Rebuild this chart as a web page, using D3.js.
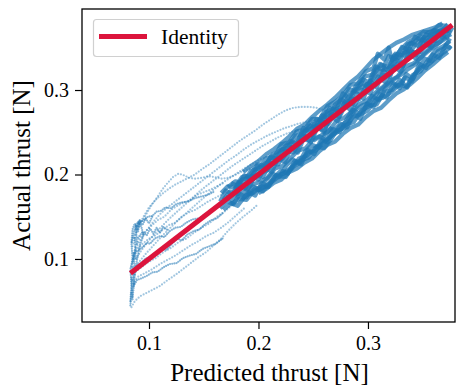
<!DOCTYPE html>
<html><head><meta charset="utf-8">
<script src="https://cdn.jsdelivr.net/npm/d3@7"></script>
<style>body{margin:0;background:#fff}svg{display:block}</style>
</head><body>
<script>
// ---- tick labels ----
const xTicks = [0.1, 0.2, 0.3];
const yTicks = [0.1, 0.2, 0.3];
const identityX = [0.083, 0.377];

// ---- dense band trajectories [predicted, actual] ----
const band1 = [[0.166,0.178],[0.172,0.186],[0.178,0.184],[0.185,0.197],[0.192,0.199],[0.199,0.212],[0.206,0.210],[0.213,0.224],[0.220,0.229],[0.227,0.232],[0.234,0.246],[0.241,0.248],[0.248,0.259],[0.255,0.262],[0.262,0.274],[0.269,0.279],[0.276,0.286],[0.283,0.301],[0.290,0.298],[0.297,0.316],[0.304,0.318],[0.311,0.331],[0.318,0.327],[0.325,0.343],[0.332,0.341],[0.339,0.356],[0.346,0.352],[0.353,0.366],[0.360,0.362],[0.367,0.373],[0.374,0.369]];
const band2 = [[0.168,0.158],[0.175,0.166],[0.181,0.163],[0.188,0.175],[0.195,0.178],[0.202,0.186],[0.209,0.185],[0.216,0.199],[0.223,0.201],[0.230,0.206],[0.237,0.219],[0.244,0.222],[0.251,0.231],[0.258,0.236],[0.265,0.244],[0.272,0.252],[0.279,0.255],[0.286,0.268],[0.293,0.271],[0.300,0.276],[0.307,0.289],[0.314,0.291],[0.321,0.297],[0.328,0.306],[0.335,0.304],[0.342,0.318],[0.349,0.327],[0.356,0.331],[0.363,0.339],[0.370,0.345],[0.376,0.352]];
const band3 = [[0.170,0.174],[0.176,0.170],[0.183,0.185],[0.190,0.182],[0.197,0.199],[0.204,0.197],[0.211,0.214],[0.218,0.212],[0.225,0.228],[0.232,0.226],[0.239,0.243],[0.246,0.240],[0.253,0.257],[0.260,0.252],[0.267,0.272],[0.274,0.268],[0.281,0.287],[0.288,0.282],[0.295,0.300],[0.302,0.296],[0.309,0.316],[0.316,0.309],[0.323,0.328],[0.330,0.322],[0.337,0.343],[0.344,0.337],[0.351,0.356],[0.358,0.350],[0.365,0.369],[0.372,0.362],[0.377,0.374]];
const band4 = [[0.172,0.185],[0.179,0.192],[0.186,0.190],[0.193,0.204],[0.200,0.207],[0.207,0.219],[0.214,0.220],[0.221,0.236],[0.228,0.238],[0.235,0.251],[0.242,0.253],[0.249,0.266],[0.256,0.265],[0.263,0.281],[0.270,0.286],[0.277,0.293],[0.284,0.306],[0.291,0.308],[0.298,0.322],[0.305,0.326],[0.309,0.343],[0.315,0.336],[0.319,0.350],[0.322,0.335],[0.330,0.348],[0.337,0.357],[0.344,0.362],[0.351,0.369],[0.358,0.368],[0.365,0.377],[0.372,0.376]];
const band5 = [[0.175,0.165],[0.182,0.171],[0.189,0.170],[0.196,0.181],[0.203,0.183],[0.210,0.189],[0.217,0.196],[0.224,0.203],[0.231,0.209],[0.238,0.214],[0.245,0.226],[0.252,0.228],[0.259,0.237],[0.266,0.245],[0.273,0.251],[0.280,0.259],[0.287,0.262],[0.294,0.276],[0.301,0.281],[0.308,0.283],[0.315,0.298],[0.322,0.300],[0.329,0.312],[0.336,0.303],[0.341,0.318],[0.348,0.322],[0.355,0.336],[0.362,0.347],[0.369,0.352],[0.375,0.358]];
const band6 = [[0.178,0.183],[0.185,0.194],[0.192,0.196],[0.199,0.205],[0.206,0.213],[0.213,0.217],[0.220,0.227],[0.227,0.235],[0.234,0.238],[0.241,0.251],[0.248,0.254],[0.255,0.259],[0.262,0.271],[0.269,0.276],[0.276,0.280],[0.283,0.293],[0.290,0.301],[0.297,0.305],[0.304,0.312],[0.311,0.322],[0.318,0.325],[0.325,0.334],[0.332,0.344],[0.339,0.346],[0.346,0.358],[0.353,0.360],[0.360,0.366],[0.367,0.371],[0.374,0.372]];
const band7 = [[0.180,0.172],[0.187,0.179],[0.194,0.188],[0.201,0.191],[0.208,0.196],[0.215,0.207],[0.222,0.210],[0.229,0.219],[0.236,0.228],[0.243,0.231],[0.250,0.242],[0.257,0.246],[0.264,0.251],[0.271,0.263],[0.278,0.267],[0.285,0.274],[0.292,0.283],[0.299,0.288],[0.306,0.296],[0.313,0.303],[0.320,0.311],[0.327,0.316],[0.334,0.328],[0.341,0.331],[0.348,0.338],[0.355,0.346],[0.362,0.352],[0.369,0.361],[0.376,0.366]];
const band8 = [[0.168,0.170],[0.174,0.180],[0.181,0.177],[0.187,0.188],[0.194,0.193],[0.201,0.201],[0.208,0.205],[0.215,0.216],[0.222,0.219],[0.229,0.232],[0.236,0.233],[0.243,0.246],[0.250,0.247],[0.257,0.263],[0.264,0.260],[0.271,0.275],[0.278,0.278],[0.285,0.290],[0.292,0.289],[0.299,0.307],[0.306,0.305],[0.313,0.318],[0.320,0.318],[0.327,0.331],[0.334,0.334],[0.341,0.345],[0.348,0.345],[0.355,0.359],[0.362,0.358],[0.369,0.368],[0.376,0.371]];
const band9 = [[0.190,0.176],[0.197,0.184],[0.204,0.180],[0.211,0.192],[0.218,0.198],[0.225,0.197],[0.232,0.212],[0.239,0.217],[0.246,0.220],[0.253,0.233],[0.260,0.231],[0.267,0.243],[0.274,0.257],[0.281,0.263],[0.288,0.276],[0.295,0.282],[0.302,0.285],[0.309,0.297],[0.316,0.305],[0.323,0.312],[0.330,0.318],[0.337,0.325],[0.344,0.331],[0.351,0.343],[0.358,0.351],[0.365,0.356],[0.372,0.362]];
const band10 = [[0.200,0.178],[0.207,0.183],[0.214,0.190],[0.221,0.194],[0.228,0.203],[0.235,0.207],[0.242,0.214],[0.249,0.219],[0.256,0.228],[0.263,0.235],[0.270,0.239],[0.277,0.248],[0.284,0.255],[0.291,0.259],[0.298,0.268],[0.305,0.275],[0.312,0.279],[0.319,0.288],[0.326,0.296],[0.333,0.301],[0.338,0.306],[0.345,0.314],[0.352,0.323],[0.359,0.330],[0.366,0.338],[0.373,0.345]];
const band11 = [[0.186,0.203],[0.193,0.210],[0.200,0.216],[0.207,0.224],[0.214,0.230],[0.221,0.237],[0.228,0.245],[0.235,0.254],[0.242,0.259],[0.249,0.268],[0.256,0.276],[0.263,0.283],[0.270,0.291],[0.277,0.300],[0.284,0.309],[0.291,0.316],[0.298,0.326],[0.305,0.336],[0.312,0.343],[0.319,0.350],[0.326,0.356],[0.333,0.360],[0.340,0.365],[0.347,0.368],[0.354,0.371],[0.361,0.374],[0.368,0.379]];
const band12 = [[0.165,0.168],[0.170,0.181],[0.176,0.176],[0.182,0.190],[0.188,0.184],[0.194,0.198],[0.200,0.194],[0.206,0.209],[0.212,0.203],[0.218,0.219],[0.224,0.215],[0.230,0.232],[0.236,0.226],[0.242,0.245],[0.248,0.238],[0.254,0.256],[0.260,0.250],[0.266,0.270],[0.272,0.263],[0.278,0.284],[0.284,0.276],[0.290,0.296],[0.296,0.290],[0.302,0.311],[0.308,0.303],[0.314,0.323],[0.320,0.315],[0.326,0.336],[0.332,0.328],[0.338,0.349],[0.344,0.341],[0.350,0.360],[0.356,0.353],[0.362,0.368],[0.368,0.362],[0.374,0.375]];
const band13 = [[0.175,0.190],[0.181,0.186],[0.187,0.199],[0.193,0.195],[0.199,0.210],[0.205,0.207],[0.211,0.221],[0.217,0.218],[0.223,0.232],[0.229,0.240],[0.235,0.236],[0.241,0.255],[0.247,0.250],[0.253,0.266],[0.259,0.262],[0.265,0.279],[0.271,0.276],[0.277,0.296],[0.283,0.290],[0.289,0.305],[0.295,0.313],[0.301,0.309],[0.307,0.328],[0.313,0.324],[0.319,0.340],[0.325,0.337],[0.331,0.351],[0.337,0.347],[0.343,0.363],[0.349,0.359],[0.355,0.368],[0.361,0.371],[0.367,0.369],[0.373,0.378]];
const band14 = [[0.185,0.170],[0.191,0.179],[0.197,0.175],[0.203,0.190],[0.209,0.186],[0.215,0.198],[0.221,0.205],[0.227,0.201],[0.233,0.216],[0.239,0.212],[0.245,0.229],[0.251,0.224],[0.257,0.241],[0.263,0.238],[0.269,0.252],[0.275,0.260],[0.281,0.256],[0.287,0.271],[0.293,0.266],[0.299,0.284],[0.305,0.280],[0.311,0.295],[0.317,0.291],[0.323,0.307],[0.329,0.302],[0.335,0.319],[0.341,0.313],[0.347,0.331],[0.353,0.326],[0.359,0.342],[0.365,0.338],[0.371,0.353],[0.376,0.349]];
const band15 = [[0.240,0.245],[0.246,0.258],[0.252,0.256],[0.258,0.270],[0.264,0.266],[0.270,0.283],[0.276,0.289],[0.282,0.283],[0.288,0.300],[0.294,0.309],[0.300,0.303],[0.306,0.320],[0.312,0.330],[0.318,0.323],[0.324,0.341],[0.330,0.337],[0.336,0.354],[0.342,0.356],[0.348,0.364],[0.354,0.361],[0.360,0.370],[0.366,0.368],[0.372,0.372]];
const band16 = [[0.250,0.240],[0.256,0.245],[0.262,0.240],[0.268,0.254],[0.274,0.250],[0.280,0.264],[0.286,0.277],[0.292,0.272],[0.298,0.280],[0.304,0.293],[0.310,0.288],[0.316,0.302],[0.322,0.309],[0.328,0.305],[0.334,0.315],[0.340,0.310],[0.346,0.325],[0.352,0.337],[0.358,0.334],[0.364,0.346],[0.370,0.350],[0.375,0.361]];
const band17 = [[0.165,0.160],[0.171,0.168],[0.177,0.165],[0.183,0.177],[0.189,0.173],[0.195,0.186],[0.201,0.182],[0.207,0.194],[0.213,0.201],[0.219,0.197],[0.225,0.210],[0.231,0.218],[0.237,0.214],[0.243,0.228],[0.249,0.235],[0.255,0.232],[0.261,0.248],[0.267,0.256]];

// ---- low-thrust trajectories [predicted, actual] ----
const low1 = [[0.084,0.043],[0.087,0.050],[0.092,0.056],[0.098,0.060],[0.104,0.064],[0.110,0.068],[0.117,0.075],[0.124,0.081],[0.131,0.088],[0.138,0.095],[0.145,0.102],[0.152,0.108],[0.159,0.116],[0.166,0.124],[0.172,0.133],[0.179,0.142],[0.186,0.150],[0.193,0.157],[0.200,0.165]];
const low2 = [[0.084,0.060],[0.086,0.072],[0.090,0.079],[0.096,0.083],[0.103,0.088],[0.110,0.094],[0.117,0.099],[0.124,0.104],[0.131,0.110],[0.138,0.116],[0.145,0.121],[0.152,0.127],[0.159,0.131],[0.166,0.137],[0.173,0.144],[0.180,0.152],[0.187,0.160]];
const low3 = [[0.085,0.075],[0.088,0.085],[0.093,0.090],[0.099,0.096],[0.106,0.101],[0.113,0.108],[0.120,0.113],[0.127,0.120],[0.134,0.124],[0.141,0.131],[0.148,0.137],[0.155,0.142],[0.162,0.150],[0.169,0.156],[0.176,0.164]];
const low4 = [[0.084,0.090],[0.086,0.105],[0.089,0.112],[0.094,0.118],[0.100,0.124],[0.106,0.128],[0.112,0.134],[0.118,0.140],[0.124,0.143],[0.130,0.150],[0.136,0.155],[0.142,0.158],[0.148,0.163],[0.154,0.168],[0.160,0.172],[0.166,0.176],[0.172,0.180]];
const low5 = [[0.085,0.115],[0.088,0.130],[0.092,0.141],[0.097,0.152],[0.102,0.163],[0.107,0.172],[0.112,0.182],[0.117,0.190],[0.122,0.197],[0.127,0.201],[0.132,0.199],[0.137,0.196],[0.142,0.195],[0.148,0.196],[0.154,0.198],[0.160,0.197],[0.166,0.195],[0.172,0.196],[0.178,0.199],[0.184,0.203],[0.190,0.206],[0.196,0.209]];
const low6 = [[0.086,0.125],[0.090,0.138],[0.095,0.150],[0.100,0.161],[0.106,0.170],[0.112,0.177],[0.118,0.183],[0.124,0.188],[0.130,0.192],[0.136,0.196],[0.142,0.200],[0.148,0.206],[0.155,0.212],[0.162,0.219],[0.169,0.226],[0.176,0.233],[0.183,0.240],[0.190,0.246],[0.197,0.252],[0.204,0.259],[0.211,0.265],[0.218,0.271],[0.225,0.276],[0.232,0.279],[0.239,0.280],[0.246,0.280],[0.253,0.279],[0.260,0.276],[0.266,0.274]];
const low7 = [[0.087,0.110],[0.092,0.122],[0.098,0.134],[0.104,0.144],[0.110,0.153],[0.116,0.160],[0.122,0.166],[0.128,0.172],[0.134,0.178],[0.140,0.184],[0.146,0.190],[0.152,0.196],[0.159,0.203],[0.166,0.210],[0.173,0.217],[0.180,0.223],[0.187,0.230],[0.194,0.236],[0.201,0.241],[0.208,0.246],[0.215,0.250],[0.222,0.254],[0.229,0.257],[0.236,0.260],[0.243,0.262],[0.250,0.263],[0.257,0.263],[0.264,0.264]];
const low8 = [[0.088,0.100],[0.094,0.112],[0.100,0.122],[0.106,0.131],[0.112,0.139],[0.118,0.147],[0.124,0.154],[0.130,0.161],[0.136,0.168],[0.142,0.175],[0.148,0.182],[0.155,0.189],[0.162,0.196],[0.169,0.203],[0.176,0.210],[0.183,0.216],[0.190,0.222],[0.197,0.228],[0.204,0.234],[0.211,0.239],[0.218,0.244],[0.225,0.248],[0.232,0.251],[0.239,0.253],[0.246,0.255],[0.253,0.257]];
const low9 = [[0.090,0.095],[0.097,0.106],[0.104,0.116],[0.111,0.126],[0.118,0.135],[0.125,0.144],[0.132,0.152],[0.139,0.160],[0.146,0.168],[0.153,0.176],[0.160,0.183],[0.167,0.190],[0.174,0.196],[0.181,0.202],[0.188,0.208],[0.195,0.213],[0.202,0.218],[0.209,0.222],[0.216,0.225],[0.223,0.229]];
const low10 = [[0.085,0.100],[0.088,0.116],[0.092,0.126],[0.097,0.133],[0.102,0.139],[0.108,0.146],[0.114,0.150],[0.120,0.158],[0.126,0.163],[0.132,0.167],[0.138,0.170],[0.144,0.176],[0.150,0.179],[0.156,0.182],[0.162,0.186],[0.168,0.190]];
const low11 = [[0.083,0.050],[0.084,0.070],[0.083,0.088],[0.085,0.100],[0.084,0.118],[0.086,0.130],[0.088,0.140],[0.090,0.144],[0.093,0.138],[0.095,0.128],[0.092,0.118],[0.090,0.105],[0.088,0.092],[0.087,0.080],[0.086,0.066],[0.085,0.055]];
const low12 = [[0.090,0.125],[0.094,0.132],[0.098,0.128],[0.101,0.136],[0.104,0.130],[0.107,0.137],[0.110,0.131],[0.113,0.138],[0.117,0.134]];
const low13 = [[0.086,0.082],[0.089,0.093],[0.093,0.095],[0.097,0.101],[0.102,0.100],[0.107,0.108],[0.111,0.112],[0.116,0.111],[0.121,0.118],[0.126,0.124],[0.130,0.122],[0.135,0.129],[0.141,0.133],[0.146,0.135],[0.151,0.141],[0.157,0.146],[0.162,0.148],[0.168,0.155]];
const low14 = [[0.085,0.095],[0.087,0.107],[0.090,0.110],[0.094,0.114],[0.098,0.119],[0.101,0.118],[0.105,0.124],[0.110,0.127],[0.114,0.126],[0.119,0.133],[0.124,0.137],[0.129,0.138],[0.134,0.143],[0.140,0.147],[0.146,0.148],[0.152,0.154],[0.158,0.158],[0.165,0.163]];
const low15 = [[0.086,0.068],[0.089,0.075],[0.093,0.077],[0.098,0.080],[0.103,0.084],[0.108,0.085],[0.113,0.090],[0.119,0.094],[0.125,0.095],[0.131,0.101],[0.137,0.104],[0.143,0.106],[0.149,0.112],[0.155,0.115],[0.161,0.118],[0.168,0.125]];
const low16 = [[0.088,0.135],[0.091,0.143],[0.095,0.146],[0.099,0.150],[0.103,0.151],[0.107,0.156],[0.111,0.157],[0.115,0.161],[0.120,0.160],[0.125,0.165],[0.130,0.167],[0.136,0.168],[0.142,0.172],[0.148,0.174],[0.154,0.176],[0.160,0.180]];
const low17 = [[0.084,0.120],[0.085,0.135],[0.087,0.142],[0.089,0.138],[0.091,0.146],[0.094,0.140],[0.097,0.148],[0.100,0.142],[0.103,0.150]];
const low18 = [[0.083,0.045],[0.084,0.060],[0.085,0.052],[0.084,0.078],[0.086,0.070],[0.085,0.092],[0.087,0.085],[0.086,0.108],[0.088,0.100],[0.087,0.125],[0.089,0.118],[0.088,0.140],[0.090,0.132],[0.092,0.148]];

const bandSeries = [band1, band2, band3, band4, band5, band6, band7, band8, band9, band10, band11, band12, band13, band14, band15, band16, band17];
const dottedSeries = [low1, low2, low3, low4, low5, low6, low7, low8, low9, low10];
const clusterSeries = [low11, low12, low13, low14, low15, low16, low17, low18];

// ---- layout ----
const W = 456, H = 387;
const m = {left: 82, right: 455, top: 9, bottom: 322};
const blue = "#1f77b4", red = "#dc143c";
const font = "'Liberation Serif','Times New Roman',serif";

const svg = d3.select("body").append("svg").attr("width", W).attr("height", H);

const x = d3.scaleLinear().domain([0.0388, 0.3795]).range([m.left, m.right]);
const y = d3.scaleLinear().domain([0.0254, 0.3959]).range([m.bottom, m.top]);

svg.append("defs").append("clipPath").attr("id", "clip")
  .append("rect").attr("x", m.left).attr("y", m.top)
  .attr("width", m.right - m.left).attr("height", m.bottom - m.top);

const plot = svg.append("g").attr("clip-path", "url(#clip)");
const line = d3.line().x(d => x(d[0])).y(d => y(d[1]));

plot.selectAll("path.cluster").data(clusterSeries).join("path")
  .attr("d", line).attr("fill", "none").attr("stroke", blue)
  .attr("stroke-width", 2.2).attr("stroke-linecap", "round")
  .attr("stroke-dasharray", "0 2.2").attr("stroke-opacity", 0.55);

plot.selectAll("path.dotted").data(dottedSeries).join("path")
  .attr("d", line).attr("fill", "none").attr("stroke", blue)
  .attr("stroke-width", 2.2).attr("stroke-linecap", "round")
  .attr("stroke-dasharray", "0 3").attr("stroke-opacity", 0.42);

plot.selectAll("path.band").data(bandSeries).join("path")
  .attr("d", line).attr("fill", "none").attr("stroke", blue)
  .attr("stroke-width", 4.2).attr("stroke-opacity", 0.72).attr("stroke-linejoin", "round");

plot.append("path").datum(identityX.map(v => [v, v])).attr("d", line)
  .attr("fill", "none").attr("stroke", red).attr("stroke-width", 5);

// axes
const xAxis = d3.axisBottom(x).tickValues(xTicks).tickFormat(d3.format(".1f")).tickSizeOuter(0).tickSize(7).tickPadding(5);
const yAxis = d3.axisLeft(y).tickValues(yTicks).tickFormat(d3.format(".1f")).tickSizeOuter(0).tickSize(7).tickPadding(6);

const gx = svg.append("g").attr("transform", `translate(0,${m.bottom})`).call(xAxis);
const gy = svg.append("g").attr("transform", `translate(${m.left},0)`).call(yAxis);
[gx, gy].forEach(g => {
  g.attr("font-family", font).attr("font-size", 20);
  g.select(".domain").remove();
  g.selectAll(".tick line").attr("stroke", "#000").attr("stroke-width", 1.2);
  g.selectAll(".tick text").style("font-family", font).style("font-size", "20px").attr("fill", "#000");
});
gx.selectAll(".tick text").attr("dy", "0.78em");

// frame
svg.append("rect").attr("x", m.left).attr("y", m.top)
  .attr("width", m.right - m.left).attr("height", m.bottom - m.top)
  .attr("fill", "none").attr("stroke", "#000").attr("stroke-width", 1.3);

// axis labels
svg.append("text").attr("x", (m.left + m.right) / 2 + 1).attr("y", 381)
  .attr("text-anchor", "middle").style("font-family", font).style("font-size", "25px")
  .text("Predicted thrust [N]");
svg.append("text").attr("transform", `translate(30,${(m.top + m.bottom) / 2}) rotate(-90)`)
  .attr("text-anchor", "middle").style("font-family", font).style("font-size", "25px")
  .text("Actual thrust [N]");

// legend
const lg = svg.append("g");
lg.append("rect").attr("x", 93.5).attr("y", 19.5).attr("width", 145).attr("height", 37)
  .attr("rx", 3).attr("fill", "#fff").attr("fill-opacity", 0.8).attr("stroke", "#d0d0d0").attr("stroke-width", 1.2);
lg.append("line").attr("x1", 99).attr("x2", 147).attr("y1", 36.5).attr("y2", 36.5)
  .attr("stroke", red).attr("stroke-width", 5);
lg.append("text").attr("x", 161).attr("y", 44).style("font-family", font).style("font-size", "21.5px")
  .text("Identity");
</script>
</body></html>
